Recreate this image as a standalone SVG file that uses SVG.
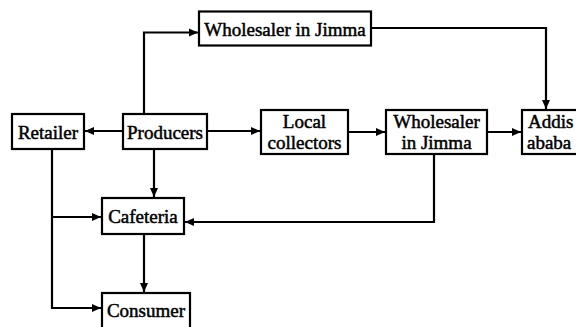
<svg xmlns="http://www.w3.org/2000/svg" width="576" height="327" viewBox="0 0 576 327">
<defs>
<marker id="ah" markerUnits="userSpaceOnUse" markerWidth="9" markerHeight="9" viewBox="0 0 9 9" refX="9" refY="4.5" orient="auto">
<path d="M0,0.5 L9,4.5 L0,8.5 Z" fill="#000"/>
</marker>
<style>
rect{fill:#fff;stroke:#000;stroke-width:2.2}
text{font-family:"Liberation Serif","Times New Roman",serif;font-size:19px;fill:#000;text-anchor:middle;stroke:#000;stroke-width:0.5}
.c path{fill:none;stroke:#000;stroke-width:2.2;marker-end:url(#ah)}
</style>
</defs>
<rect x="0" y="0" width="576" height="327" style="fill:#fff;stroke:none"/>
<g class="c" id="connectors">
<path d="M144,114 V32.5 H198"/>
<path d="M123,131 H85"/>
<path d="M207,131 H260"/>
<path d="M348,132 H385"/>
<path d="M487,132 H521"/>
<path d="M371,28 H546 V109"/>
<path d="M434,154 V222 H185"/>
<path d="M154,149 V197"/>
<path d="M52,149 V308 H101"/>
<path d="M52,217 H101"/>
<path d="M144,234 V292"/>
</g>
<g id="wholesaler-top"><rect x="199" y="11.5" width="172" height="34"/><text x="285" y="35.5">Wholesaler in Jimma</text></g>
<g id="retailer"><rect x="12" y="114" width="72" height="35"/><text x="48" y="138.5">Retailer</text></g>
<g id="producers"><rect x="123" y="114" width="84" height="35"/><text x="165" y="138.5">Producers</text></g>
<g id="local-collectors"><rect x="261" y="110" width="87" height="44"/><text x="304.5" y="128">Local</text><text x="304.5" y="148.5">collectors</text></g>
<g id="wholesaler-mid"><rect x="386" y="110" width="101" height="44"/><text x="436.5" y="128">Wholesaler</text><text x="436.5" y="148.5">in Jimma</text></g>
<g id="addis"><rect x="522" y="110" width="70" height="44"/><text x="528" y="128" style="text-anchor:start">Addis</text><text x="527" y="148.5" style="text-anchor:start">ababa</text></g>
<g id="cafeteria"><rect x="102" y="198" width="82" height="36"/><text x="143" y="222.5">Cafeteria</text></g>
<g id="consumer"><rect x="102" y="293" width="88" height="42"/><text x="146" y="316.5">Consumer</text></g>
</svg>
